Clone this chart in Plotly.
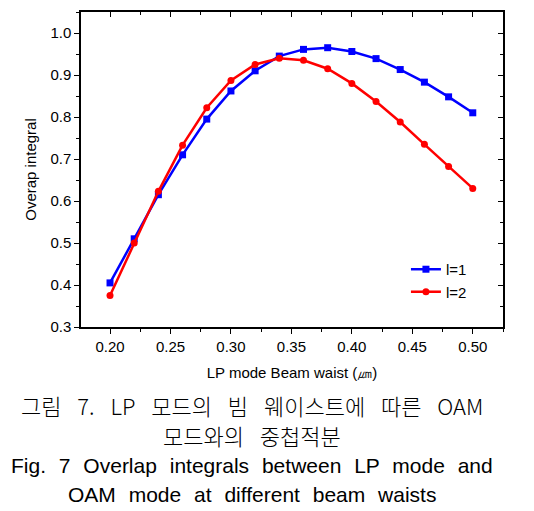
import plotly.graph_objects as go

beam_waist = [0.20, 0.22, 0.24, 0.26, 0.28, 0.30, 0.32, 0.34, 0.36, 0.38, 0.40, 0.42, 0.44, 0.46, 0.48, 0.50]
l1 = [0.405, 0.510, 0.615, 0.710, 0.795, 0.862, 0.910, 0.945, 0.961, 0.965, 0.956, 0.939, 0.913, 0.883, 0.848, 0.810]
l2 = [0.375, 0.500, 0.623, 0.733, 0.822, 0.887, 0.925, 0.940, 0.935, 0.915, 0.880, 0.837, 0.788, 0.735, 0.682, 0.630]
x_ticks = [0.20, 0.25, 0.30, 0.35, 0.40, 0.45, 0.50]
y_ticks = [0.3, 0.4, 0.5, 0.6, 0.7, 0.8, 0.9, 1.0]

XR = [0.176, 0.525]
YR = [0.3, 1.05]

fig = go.Figure()
fig.add_trace(go.Scatter(x=beam_waist, y=l1, mode="lines+markers", name="l=1",
                         line=dict(color="#0000ff", width=2.5),
                         marker=dict(symbol="square", size=7, color="#0000ff")))
fig.add_trace(go.Scatter(x=beam_waist, y=l2, mode="lines+markers", name="l=2",
                         line=dict(color="#ff0000", width=2.5),
                         marker=dict(symbol="circle", size=7, color="#ff0000")))
# invisible trace so the top / right mirror axes (inside ticks) are drawn
fig.add_trace(go.Scatter(x=beam_waist, y=l1, xaxis="x2", yaxis="y2", mode="lines",
                         opacity=0, showlegend=False, hoverinfo="skip"))

tickfont = dict(family="Liberation Sans, Arial, sans-serif", size=15, color="black")
common = dict(showgrid=False, zeroline=False, showline=True, linecolor="black", linewidth=1.5,
              ticklen=5, tickwidth=1.2, tickcolor="black", automargin=False)

fig.update_layout(
    width=534, height=511,
    margin=dict(l=81, r=31, t=12, b=184),
    plot_bgcolor="white", paper_bgcolor="white",
    font=dict(family="Liberation Sans, Arial, sans-serif", color="black"),
    xaxis=dict(range=XR, tickvals=x_ticks, ticktext=[f"{v:.2f}" for v in x_ticks],
               ticks="outside", tickfont=tickfont,
               minor=dict(dtick=0.025, tick0=0.2, ticks="outside", ticklen=3, tickcolor="black"),
               title=dict(text="LP mode Beam waist (㎛)", font=dict(size=15), standoff=14),
               **common),
    yaxis=dict(range=YR, tickvals=y_ticks, ticktext=[f"{v:.1f}" for v in y_ticks],
               ticks="outside", tickfont=tickfont,
               minor=dict(dtick=0.05, tick0=0.3, ticks="outside", ticklen=3, tickcolor="black"),
               title=dict(text="Overap integral", font=dict(size=15), standoff=10),
               **common),
    xaxis2=dict(range=XR, overlaying="x", side="top", anchor="y", tickvals=x_ticks,
                showticklabels=False, ticks="inside",
                minor=dict(dtick=0.025, tick0=0.2, ticks="inside", ticklen=3, tickcolor="black"),
                **common),
    yaxis2=dict(range=YR, overlaying="y", side="right", anchor="x", tickvals=y_ticks,
                showticklabels=False, ticks="inside",
                minor=dict(dtick=0.05, tick0=0.3, ticks="inside", ticklen=3, tickcolor="black"),
                **common),
    legend=dict(x=0.77, y=0.235, xanchor="left", yanchor="top", bgcolor="rgba(0,0,0,0)",
                font=dict(size=15), itemwidth=30, tracegroupgap=0),
)

cap_kr = dict(family="Noto Sans CJK KR, sans-serif", size=22, color="black", weight=300)
cap_en = dict(family="Liberation Sans, Arial, sans-serif", size=21, color="black")
sp_kr = " \u2002"
sp_en = " \u2005\u200a"
captions = [
    ("그림 7. LP 모드의 빔 웨이스트에 따른 OAM".replace(" ", sp_kr), 405, cap_kr),
    ("모드와의 중첩적분".replace(" ", sp_kr), 435, cap_kr),
    ("Fig. 7 Overlap integrals between LP mode and".replace(" ", sp_en), 465, cap_en),
    ("OAM mode at different beam waists".replace(" ", sp_en), 495, cap_en),
]
for text, ypx, f in captions:
    fig.add_annotation(text=text, x=(252 - 81) / (534 - 81 - 31),
                       y=(511 - 184 - ypx) / (511 - 12 - 184),
                       xref="paper", yref="paper", showarrow=False, font=f,
                       xanchor="center", yanchor="middle")

fig.write_html("out.html", config={"displayModeBar": False},
               post_script="document.body.style.margin='0';document.body.style.padding='0';")
